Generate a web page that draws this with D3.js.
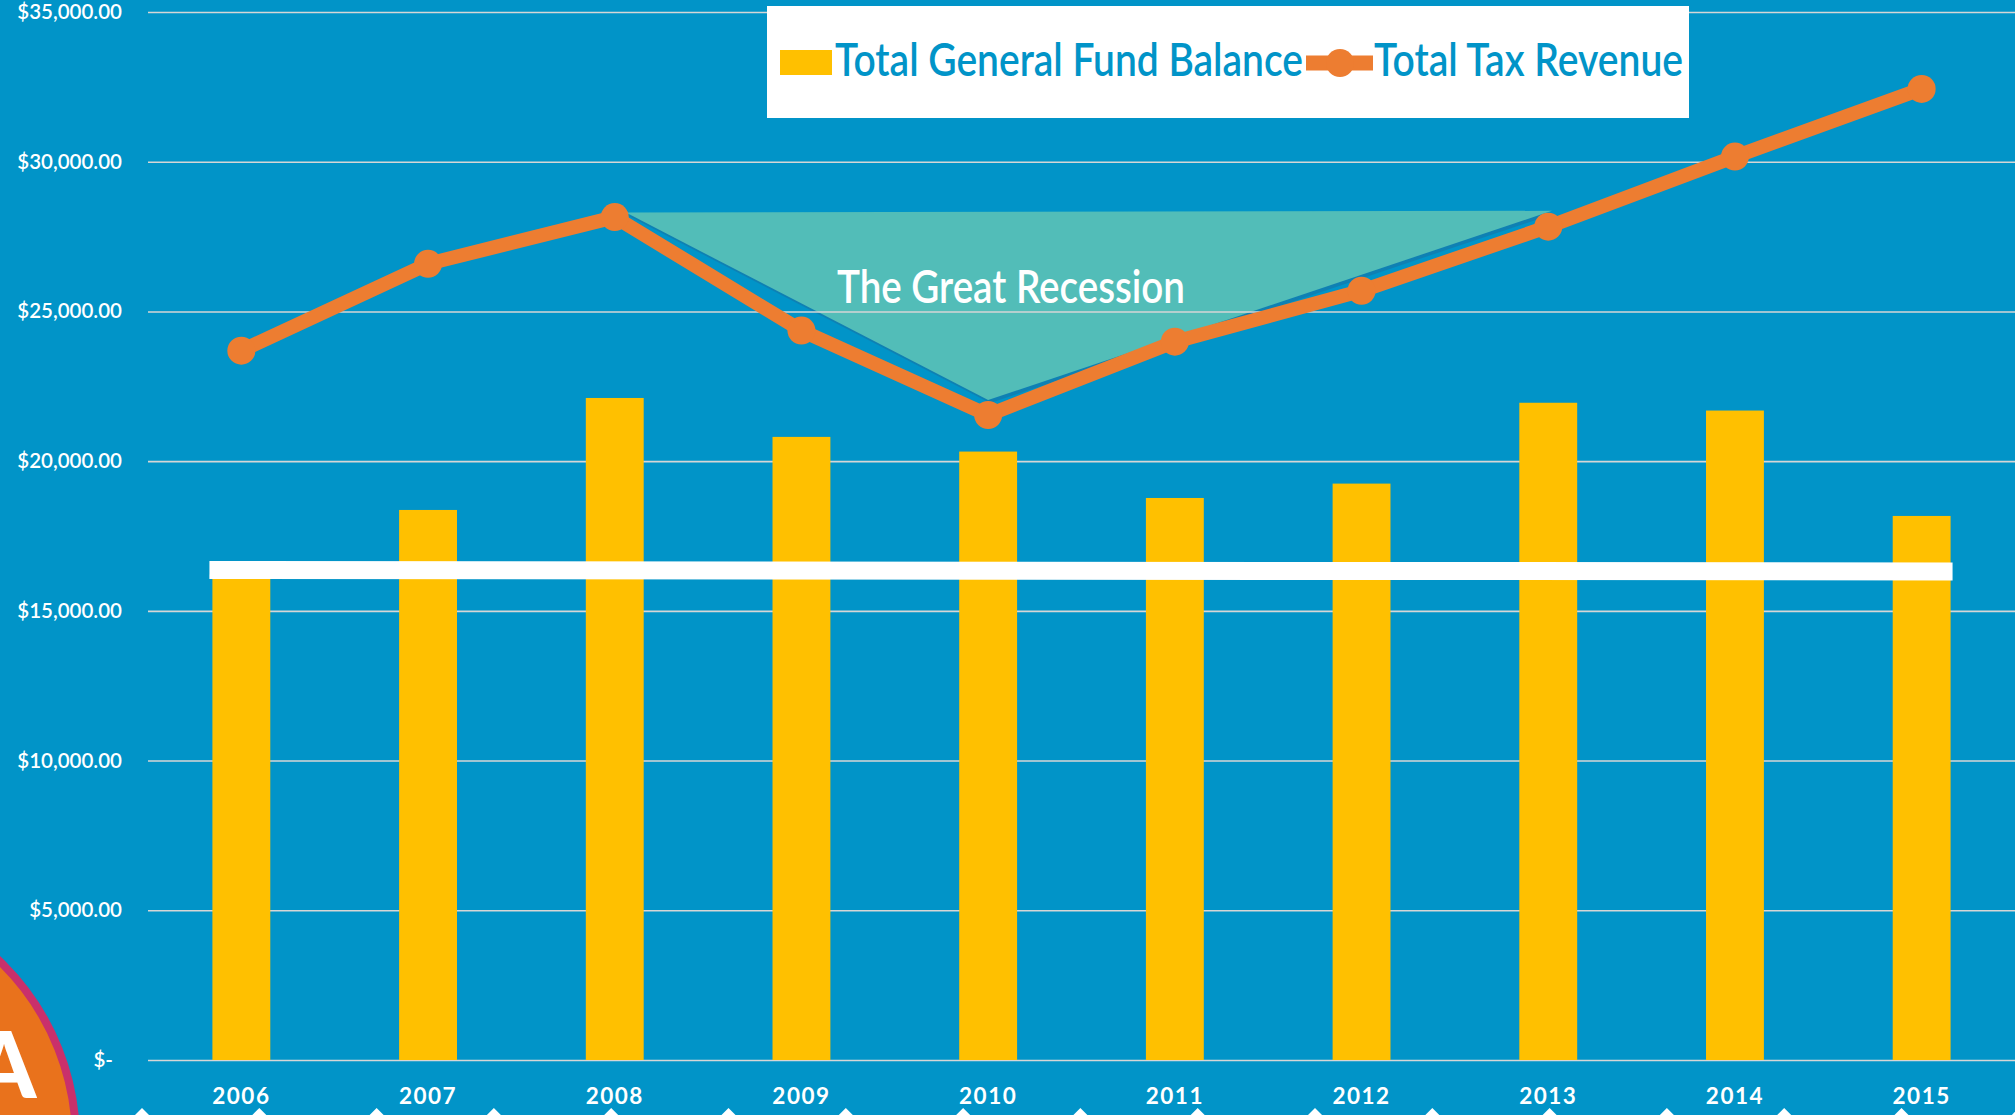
<!DOCTYPE html>
<html>
  <head>
    <meta charset="utf-8" />
    <title>General Fund Balance vs Tax Revenue</title>
    <script src="https://cdn.jsdelivr.net/npm/d3@7"></script>
    <style type="text/css">
      html, body { margin: 0; padding: 0; background: #0194c8; }
      svg { display: block; }
      text { font-family: Lato, "Open Sans", sans-serif; }
    </style>
  </head>

  <body onload="makeChart()">
    <svg id="chart" width="2015" height="1115"></svg>
    <script type="text/javascript">
      // data
      var years = ['2006', '2007', '2008', '2009', '2010', '2011', '2012', '2013', '2014', '2015'];
      var fundBalance = [16300, 18370, 22110, 20810, 20320, 18770, 19250, 21950, 21690, 18170];
      var taxRevenue = [23690, 26590, 28150, 24360, 21540, 23990, 25690, 27830, 30170, 32430];
      var yTicks = [0, 5000, 10000, 15000, 20000, 25000, 30000, 35000];
      var seriesNames = ['Total General Fund Balance', 'Total Tax Revenue'];
      // flat white marker line, start and end value
      var refLine = [16365, 16315];
      // shaded recession triangle (fractional year position, value)
      var recession = [
        { pos: 2008.06, value: 28300 },
        { pos: 2013.02, value: 28360 },
        { pos: 2010.0, value: 22040 },
      ];
      var recessionLabel = 'The Great Recession';

      function makeChart() {
        var svg = d3.select('#chart');
        var W = +svg.attr('width');
        var H = +svg.attr('height');

        var bg = '#0194c8';
        var yellow = '#ffc000';
        var orange = '#ed7d31';
        var teal = '#52bdb8';

        svg.append('rect').attr('width', W).attr('height', H).attr('fill', bg);

        var left = 148;
        var x = d3.scaleBand().domain(years).range([left, W]).paddingInner(0.69).paddingOuter(0.345);
        var y = d3.scaleLinear().domain([0, 35000]).range([1060, 12]);
        var bw = x.bandwidth();
        var cx = (yr) => x(yr) + bw / 2;
        // fractional year -> pixel, built from the band scale
        var xPos = (p) => cx(years[0]) + (p - +years[0]) * x.step();

        // recession triangle, shadow first
        var tri = d3.line().x((d) => xPos(d.pos)).y((d) => y(d.value));
        svg.append('path')
          .attr('d', tri(recession) + 'Z')
          .attr('transform', 'translate(2,3)')
          .attr('fill', '#0f80b3');
        svg.append('path').attr('d', tri(recession) + 'Z').attr('fill', teal);

        // gridlines
        svg.append('g')
          .attr('transform', 'translate(' + left + ',0)')
          .call(d3.axisLeft(y).tickValues(yTicks).tickSize(-(W - left)).tickFormat(''))
          .call((g) => g.select('.domain').remove())
          .call((g) => g.selectAll('line').attr('stroke', '#d6d6d6').attr('stroke-width', 1.6));

        // y labels
        var fmt = d3.format('$,.2f');
        var yAx = svg.append('g')
          .attr('transform', 'translate(' + left + ',0)')
          .call(d3.axisLeft(y).tickValues(yTicks).tickSize(0).tickPadding(26)
            .tickFormat((d) => (d === 0 ? '$-' : fmt(d))));
        yAx.select('.domain').remove();
        yAx.selectAll('text')
          .attr('fill', '#fff')
          .style('font-size', '20.5px')
          .style('font-weight', 600)
          .filter((d) => d === 0)
          .attr('dx', -9);

        // bars
        svg.append('g')
          .selectAll('rect')
          .data(years)
          .enter()
          .append('rect')
          .attr('x', (d) => x(d))
          .attr('width', bw)
          .attr('y', (d, i) => y(fundBalance[i]))
          .attr('height', (d, i) => y(0) - y(fundBalance[i]))
          .attr('fill', yellow);

        // white flat line over the bars
        svg.append('line')
          .attr('x1', x(years[0]) - 3)
          .attr('x2', x(years[years.length - 1]) + bw + 2)
          .attr('y1', y(refLine[0]))
          .attr('y2', y(refLine[1]))
          .attr('stroke', '#fff')
          .attr('stroke-width', 18);

        // x labels
        var xAx = svg.append('g')
          .attr('transform', 'translate(0,' + y(0) + ')')
          .call(d3.axisBottom(x).tickSize(0).tickPadding(28));
        xAx.select('.domain').remove();
        xAx.selectAll('text')
          .attr('fill', '#fff')
          .style('font-size', '22.5px')
          .style('font-weight', 700)
          .style('letter-spacing', '1.5px');

        // recession label
        svg.append('text')
          .attr('x', 837)
          .attr('y', 303)
          .attr('textLength', 348)
          .attr('lengthAdjust', 'spacingAndGlyphs')
          .attr('fill', '#fff')
          .style('font-size', '47px')
          .style('font-weight', 600)
          .text(recessionLabel);

        // tax revenue line
        var lnMkr = d3.line().x((d, i) => cx(years[i])).y((d) => y(d));
        svg.append('path')
          .attr('d', lnMkr(taxRevenue))
          .attr('fill', 'none')
          .attr('stroke', orange)
          .attr('stroke-width', 14)
          .attr('stroke-linejoin', 'round');
        svg.append('g')
          .selectAll('circle')
          .data(taxRevenue)
          .enter()
          .append('circle')
          .attr('cx', (d, i) => cx(years[i]))
          .attr('cy', (d) => y(d))
          .attr('r', 14)
          .attr('fill', orange);

        // legend
        var lg = svg.append('g');
        lg.append('rect').attr('x', 767).attr('y', 6).attr('width', 922).attr('height', 112).attr('fill', '#fff');
        lg.append('rect').attr('x', 780).attr('y', 50).attr('width', 52).attr('height', 25).attr('fill', yellow);
        lg.append('line').attr('x1', 1306).attr('x2', 1373).attr('y1', 63).attr('y2', 63)
          .attr('stroke', orange).attr('stroke-width', 15);
        lg.append('circle').attr('cx', 1340).attr('cy', 63).attr('r', 14).attr('fill', orange);
        lg.selectAll('text.lbl')
          .data(seriesNames)
          .enter()
          .append('text')
          .attr('class', 'lbl')
          .attr('x', (d, i) => [835, 1374][i])
          .attr('y', 76)
          .attr('textLength', (d, i) => [468, 309][i])
          .attr('lengthAdjust', 'spacingAndGlyphs')
          .attr('fill', bg)
          .style('font-size', '47px')
          .style('font-weight', 600)
          .text((d) => d);

        // bottom decoration: white diamonds along the edge
        svg.append('g')
          .selectAll('path')
          .data(d3.range(-1, 17))
          .enter()
          .append('path')
          .attr('d', (k) => {
            var px = 142 + k * 117.3;
            return 'M' + px + ',1108L' + (px + 10) + ',1118L' + px + ',1128L' + (px - 10) + ',1118Z';
          })
          .attr('fill', '#fff');

        // logo badge in the corner
        svg.append('circle')
          .attr('cx', -174).attr('cy', 1141).attr('r', 250)
          .attr('fill', '#e9721c')
          .attr('stroke', '#c9306b')
          .attr('stroke-width', 8);
        svg.append('text')
          .attr('x', 4).attr('y', 1098)
          .attr('text-anchor', 'middle')
          .attr('fill', '#fff')
          .style('font-size', '92px')
          .style('font-weight', 900)
          .text('A');
      }
    </script>
  </body>
</html>
